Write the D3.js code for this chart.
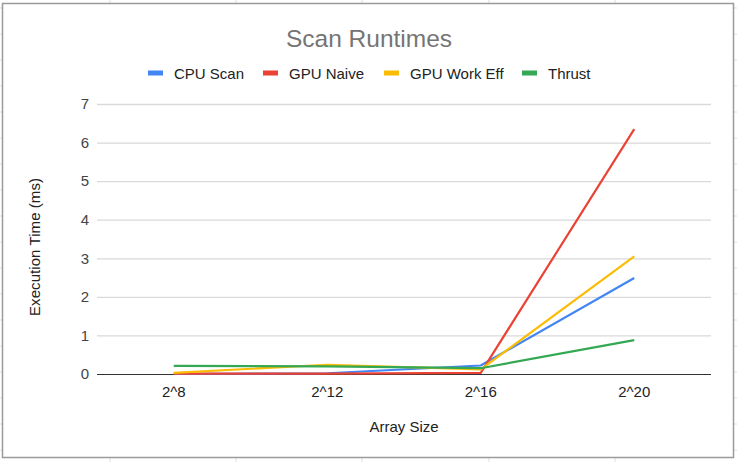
<!DOCTYPE html>
<html>
<head>
<meta charset="utf-8">
<script src="https://cdn.jsdelivr.net/npm/d3@7"></script>
<style>
  html, body { margin: 0; padding: 0; background: #fff; }
  svg { display: block; font-family: "Liberation Sans", Arial, sans-serif; }
</style>
</head>
<body>
<svg id="chart" width="737" height="462"></svg>
<script>
const categories = ["2^8", "2^12", "2^16", "2^20"];
const seriesNames = ["CPU Scan", "GPU Naive", "GPU Work Eff", "Thrust"];
const seriesColors = ["#4285F4", "#EA4335", "#FBBC04", "#34A853"];
const cpuScan    = [0.00, 0.02, 0.22, 2.49];
const gpuNaive   = [0.01, 0.01, 0.03, 6.35];
const gpuWorkEff = [0.03, 0.24, 0.12, 3.05];
const thrust     = [0.21, 0.20, 0.15, 0.88];
const yTicks = [0, 1, 2, 3, 4, 5, 6, 7];
const seriesValues = [cpuScan, gpuNaive, gpuWorkEff, thrust];

const svg = d3.select("#chart");

// spreadsheet background grid (outside chart frame)
const bg = svg.append("g");
[110, 236, 362, 489, 615].forEach(x => {
  bg.append("line").attr("x1", x).attr("x2", x).attr("y1", 0).attr("y2", 462)
    .attr("stroke", "#dedede").attr("stroke-width", 1);
});
d3.range(8, 462, 26).forEach(y => {
  bg.append("line").attr("x1", 0).attr("x2", 737).attr("y1", y).attr("y2", y)
    .attr("stroke", "#dedede").attr("stroke-width", 1);
});
// chart frame
svg.append("rect").attr("x", 2.5).attr("y", 3.5).attr("width", 731).attr("height", 454)
  .attr("fill", "#fff").attr("stroke", "#9a9a9a").attr("stroke-width", 1.5);

const plot = { left: 97, right: 711, top: 104, bottom: 374 };

const x = d3.scaleBand().domain(categories).range([plot.left, plot.right]).padding(0);
const y = d3.scaleLinear().domain([0, 7]).range([plot.bottom, plot.top]);

// gridlines + y labels
const yAxis = d3.axisLeft(y).tickValues(yTicks).tickFormat(d3.format("d"))
  .tickSize(-(plot.right - plot.left)).tickPadding(8);
const gy = svg.append("g").attr("transform", `translate(${plot.left},0)`).call(yAxis);
gy.select(".domain").remove();
gy.selectAll(".tick line").attr("stroke", d => d === 0 ? "#333" : "#d9d9d9").attr("stroke-width", d => d === 0 ? 1.2 : 1.3);
gy.selectAll(".tick text").attr("fill", "#444").attr("font-size", 15).attr("x", -8)
  .attr("font-family", "'Liberation Sans', Arial, sans-serif");

// x labels
const xAxis = d3.axisBottom(x).tickSize(0).tickPadding(12);
const gx = svg.append("g").attr("transform", `translate(0,${plot.bottom})`).call(xAxis);
gx.select(".domain").remove();
gx.selectAll(".tick text").attr("fill", "#222").attr("font-size", 15)
  .attr("font-family", "'Liberation Sans', Arial, sans-serif");

// lines
const line = d3.line().x((d, i) => x(categories[i]) + x.bandwidth() / 2).y(d => y(d));
seriesValues.forEach((vals, i) => {
  svg.append("path").datum(vals).attr("d", line).attr("fill", "none")
    .attr("stroke", seriesColors[i]).attr("stroke-width", 2.2).attr("stroke-linejoin", "round");
});

// title
svg.append("text").attr("x", 369).attr("y", 47).attr("text-anchor", "middle")
  .attr("font-size", 24.5).attr("fill", "#757575").text("Scan Runtimes");

// legend
const legendX = [148, 263, 384, 522];
seriesNames.forEach((name, i) => {
  const g = svg.append("g").attr("transform", `translate(${legendX[i]},73)`);
  g.append("rect").attr("x", 0).attr("y", -2.5).attr("width", 15).attr("height", 5).attr("fill", seriesColors[i]);
  g.append("text").attr("x", 26).attr("y", 5.5).attr("font-size", 15).attr("fill", "#222").text(name);
});

// axis titles
svg.append("text").attr("x", 404).attr("y", 432).attr("text-anchor", "middle")
  .attr("font-size", 15).attr("fill", "#222").text("Array Size");
svg.append("text").attr("transform", "translate(40,247) rotate(-90)").attr("text-anchor", "middle")
  .attr("font-size", 15).attr("textLength", 138).attr("lengthAdjust", "spacing")
  .attr("fill", "#222").text("Execution Time (ms)");
</script>
</body>
</html>
